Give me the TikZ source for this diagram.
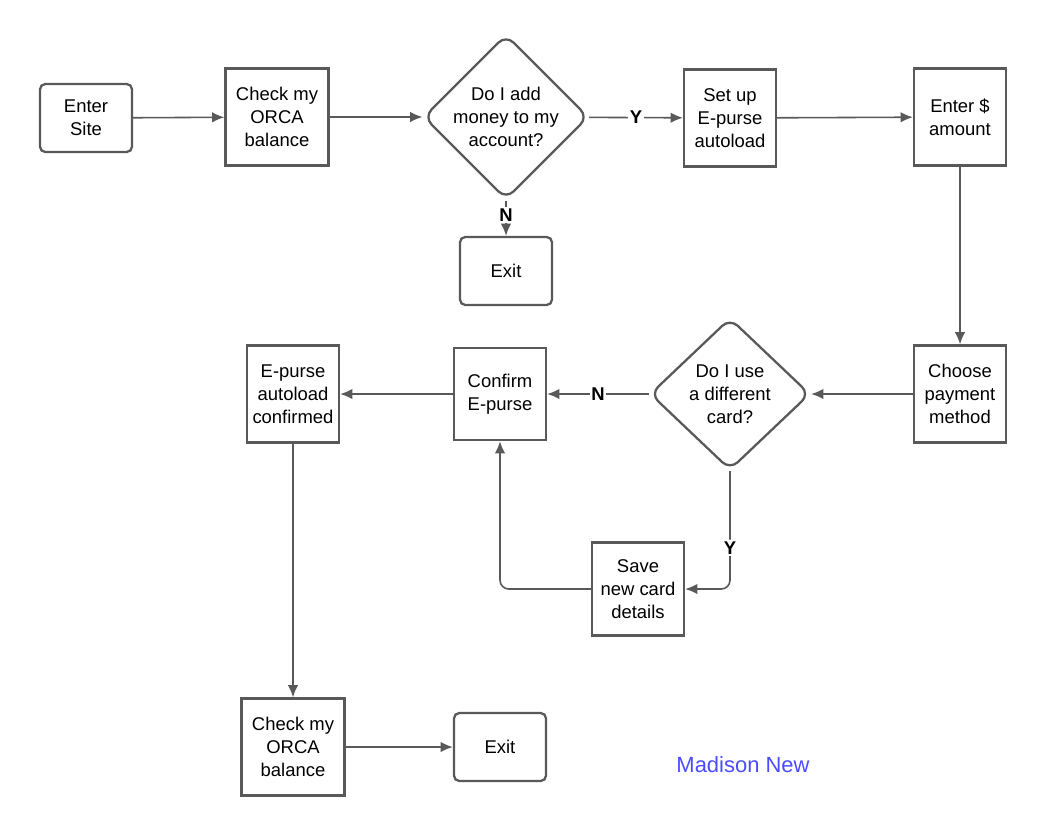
\documentclass[tikz,border=0pt]{standalone}
\usepackage{fontspec}
\setmainfont{Liberation Sans}
\usetikzlibrary{shapes.geometric,arrows.meta}
\definecolor{ln}{HTML}{595959}
\begin{document}
\begin{tikzpicture}[x=0.02cm,y=-0.02cm,
  base/.style={draw=ln,line width=1.3pt,align=center,font=\fontsize{10.5}{13}\selectfont,inner sep=0pt},
  box/.style={base,minimum width=1.84cm,minimum height=1.94cm},
  rbox/.style={base,rounded corners=3pt,minimum width=1.84cm,minimum height=1.36cm},
  dia/.style={base,diamond,rounded corners=6pt,minimum width=3.24cm,minimum height=3.04cm},
  arr/.style={draw=ln,line width=0.9pt,-{Latex[length=7pt,width=6pt]}},
  lab/.style={fill=white,font=\bfseries\fontsize{10.5}{12}\selectfont,inner sep=1pt}]
\useasboundingbox (0,0) rectangle (1046,836);
\node[rbox] (enter) at (86,118) {Enter\\Site};
\node[box,minimum width=2.06cm] (check1) at (277,117) {Check my\\ORCA\\balance};
\node[dia] (d1) at (506,117) {Do I add\\money to my\\account?};
\node[box] (setup) at (730,118) {Set up\\E-purse\\autoload};
\node[box] (amount) at (960,117) {Enter \$\\amount};
\node[rbox] (exit1) at (506,271) {Exit};
\node[box] (pay) at (960,394) {Choose\\payment\\method};
\node[dia,minimum width=3.2cm] (d2) at (730,394) {Do I use\\a different\\card?};
\node[box,minimum height=1.84cm] (conf) at (500,394) {Confirm\\E-purse};
\node[box] (epc) at (293,394) {E-purse\\autoload\\confirmed};
\node[box,minimum height=1.86cm] (save) at (638,589) {Save\\new card\\details};
\node[box,minimum width=2.06cm] (check2) at (293,747) {Check my\\ORCA\\balance};
\node[rbox] (exit2) at (500,747) {Exit};
\node[text=blue!70!white,font=\fontsize{12.5}{14}\selectfont] (name) at (743,765) {Madison New};

\draw[arr] (enter) -- (check1);
\draw[arr] (check1) -- (d1);
\draw[arr] (d1) -- node[lab]{Y} (setup);
\draw[arr] (setup) -- (amount);
\draw[arr] (d1) -- node[lab,pos=0.4]{N} (exit1);
\draw[arr] (amount) -- (pay);
\draw[arr] (pay) -- (d2);
\draw[arr] (d2) -- node[lab]{N} (conf);
\draw[arr] (conf) -- (epc);
\draw[arr,rounded corners=5pt] (d2.south) -- node[lab,pos=0.65]{Y} (d2.south|-save.east) -- (save.east);
\draw[arr,rounded corners=5pt] (save.west) -- (conf.south|-save.west) -- (conf.south);
\draw[arr] (epc) -- (check2);
\draw[arr] (check2) -- (exit2);
\end{tikzpicture}
\end{document}
